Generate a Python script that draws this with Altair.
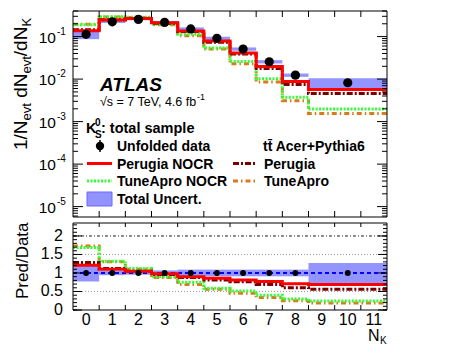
import altair as alt
import pandas as pd

FONT = "Liberation Sans"

# ---------------- data ----------------
bin_centers = [0, 1, 2, 3, 4, 5, 6, 7, 8, 10]
bin_lo = [-0.5, 0.5, 1.5, 2.5, 3.5, 4.5, 5.5, 6.5, 7.5, 8.5]
bin_hi = [0.5, 1.5, 2.5, 3.5, 4.5, 5.5, 6.5, 7.5, 8.5, 11.5]
data_vals = [0.113, 0.223, 0.254, 0.216, 0.151, 0.091, 0.051, 0.0256, 0.0124, 0.0082]
rel_unc = [0.23, 0.06, 0.05, 0.07, 0.09, 0.09, 0.09, 0.09, 0.09, 0.27]
ratio_perugia_nocr = [1.21, 1.10, 1.05, 0.98, 0.90, 0.86, 0.81, 0.77, 0.71, 0.69]
ratio_perugia = [1.28, 1.12, 1.05, 0.96, 0.875, 0.81, 0.76, 0.69, 0.60, 0.56]
ratio_tuneapro_nocr = [1.69, 1.32, 1.12, 0.90, 0.75, 0.59, 0.51, 0.40, 0.30, 0.24]
ratio_tuneapro = [1.73, 1.30, 1.10, 0.88, 0.69, 0.56, 0.45, 0.335, 0.25, 0.19]

x_domain = [-0.5, 11.5]
x_tick_vals = [0.5, 1.5, 2.5, 3.5, 4.5, 5.5, 6.5, 7.5, 8.5, 9.5, 10.5]
x_label_vals = [0, 1, 2, 3, 4, 5, 6, 7, 8, 9, 10, 11]
x_labels = ["0", "1", "2", "3", "4", "5", "6", "7", "8", "9", "10", "11"]

ytop_domain = [5.7e-6, 0.4]
ytop_major = [1e-1, 1e-2, 1e-3, 1e-4, 1e-5]
ytop_exp = ["-1", "-2", "-3", "-4", "-5"]
ytop_minor = [k * 10.0 ** e for e in range(-6, 0) for k in range(2, 10)
              if ytop_domain[0] <= k * 10.0 ** e <= ytop_domain[1]]

ybot_domain = [0, 2.35]
ybot_major = [0, 0.5, 1, 1.5, 2]
ybot_labels = ["0", "0.5", "1", "1.5", "2"]
ybot_minor = [i / 10 for i in range(0, 24)]
ybot_grid = [0.5, 1.5]
ybot_grid2 = [2.0]

# ---------------- scales ----------------
W, H = 314, 299
TOP_H = 206
BOT_TOP = 212
XS = alt.Scale(domain=x_domain, nice=False, zero=False)
YT = alt.Scale(type="log", domain=ytop_domain, range=[TOP_H, 0], nice=False)
YB = alt.Scale(domain=ybot_domain, range=[H, BOT_TOP], nice=False, zero=False)

dummy = pd.DataFrame({"d": [0]})
OX, OY = 73, 11  # page position of the plot origin


def X(f):
    return alt.X(f, type="quantitative", scale=XS, axis=None)


def txt(s, x, y, size=14, weight="bold", align="left", baseline="alphabetic",
        angle=0, style="normal", color="black"):
    kw = dict(text=s, fontSize=size, fontWeight=weight, align=align,
              baseline=baseline, font=FONT, fontStyle=style, color=color)
    if angle:
        kw["angle"] = angle
    return alt.Chart(dummy).mark_text(**kw).encode(x=alt.value(x - OX), y=alt.value(y - OY))


def hrule(x1, x2, y, color, width, dash=None):
    kw = dict(color=color, strokeWidth=width)
    if dash:
        kw["strokeDash"] = dash
    return alt.Chart(dummy).mark_rule(**kw).encode(
        x=alt.value(x1 - OX), x2=alt.value(x2 - OX), y=alt.value(y - OY))


series = [
    ("TuneApro", ratio_tuneapro, "#d97a1c", [5, 3, 1.5, 3]),
    ("TuneApro NOCR", ratio_tuneapro_nocr, "#33ff33", [2, 1.5]),
    ("Perugia", ratio_perugia, "#7a0000", [6, 2, 2, 2]),
    ("Perugia NOCR", ratio_perugia_nocr, "#ff0000", None),
]


def step_layer(vals, color, dash, yscale):
    df = pd.DataFrame({"x": bin_lo + [bin_hi[-1]], "y": vals + [vals[-1]]})
    kw = dict(interpolate="step-after", color=color, strokeWidth=3)
    if dash:
        kw["strokeDash"] = dash
    return alt.Chart(df).mark_line(**kw).encode(
        x=X("x"), y=alt.Y("y:Q", scale=yscale, axis=None))


BAND_FILL = "#4646ff"
BAND_OP = 0.58

# ---------------- top panel ----------------
top_layers = []
band_top = pd.DataFrame({
    "lo": bin_lo, "hi": bin_hi,
    "ylo": [d * (1 - e) for d, e in zip(data_vals, rel_unc)],
    "yhi": [d * (1 + e) for d, e in zip(data_vals, rel_unc)],
})
top_layers.append(alt.Chart(band_top).mark_rect(color=BAND_FILL, opacity=BAND_OP).encode(
    x=X("lo"), x2="hi", y=alt.Y("ylo:Q", scale=YT, axis=None), y2="yhi"))
for name, r, c, dash in series:
    top_layers.append(step_layer([a * d for a, d in zip(r, data_vals)], c, dash, YT))
pts_top = pd.DataFrame({"x": bin_centers, "y": data_vals})
top_layers.append(alt.Chart(pts_top).mark_point(filled=True, color="black", size=85, opacity=1).encode(
    x=X("x"), y=alt.Y("y:Q", scale=YT, axis=None)))

# ticks
maj_df = pd.DataFrame({"v": ytop_major})
min_df = pd.DataFrame({"v": ytop_minor})
for df, L in ((maj_df, 10), (min_df, 5)):
    top_layers.append(alt.Chart(df).mark_rule(color="black").encode(
        y=alt.Y("v:Q", scale=YT, axis=None), x=alt.value(0), x2=alt.value(L)))
    top_layers.append(alt.Chart(df).mark_rule(color="black").encode(
        y=alt.Y("v:Q", scale=YT, axis=None), x=alt.value(W), x2=alt.value(W - L)))
xt_df = pd.DataFrame({"v": x_tick_vals})
top_layers.append(alt.Chart(xt_df).mark_rule(color="black").encode(
    x=X("v"), y=alt.value(0), y2=alt.value(6)))
top_layers.append(alt.Chart(xt_df).mark_rule(color="black").encode(
    x=X("v"), y=alt.value(TOP_H), y2=alt.value(TOP_H - 6)))
frame_top = pd.DataFrame({"x0": [x_domain[0]], "x1": [x_domain[1]],
                          "y0": [ytop_domain[0]], "y1": [ytop_domain[1]]})
top_layers.append(alt.Chart(frame_top).mark_rect(fillOpacity=0, stroke="black", strokeWidth=1).encode(
    x=X("x0"), x2="x1", y=alt.Y("y0:Q", scale=YT, axis=None), y2="y1"))

# y labels 10^k
top_layers.append(alt.Chart(pd.DataFrame({"v": ytop_major, "t": ["10"] * 5})).mark_text(
    align="right", baseline="middle", fontSize=15.5, font=FONT, dy=1).encode(
    y=alt.Y("v:Q", scale=YT, axis=None), x=alt.value(-17), text="t:N"))
top_layers.append(alt.Chart(pd.DataFrame({"v": ytop_major, "t": ytop_exp})).mark_text(
    align="left", baseline="middle", fontSize=10, font=FONT, dy=-5).encode(
    y=alt.Y("v:Q", scale=YT, axis=None), x=alt.value(-16), text="t:N"))

# y title 1/N_evt dN_evt/dN_K (rotated); (text, size, baseline shift, width in em, gap before)
segs = [("1/N", 19, 0, 1.556, 0), ("evt", 13, 4, 1.334, 0), ("dN", 19, 0, 1.278, 5.3),
        ("evt", 13, 4, 1.334, 0), ("/dN", 19, 0, 1.556, 0), ("K", 13, 4, 0.667, 0)]
ypos = 150
for s, size, shift, em, gap in segs:
    ypos -= gap
    top_layers.append(txt(s, 27 + shift, ypos, size=size, weight="normal", angle=270))
    ypos -= em * size

# annotations
top_layers.append(txt("ATLAS", 100, 91, size=19, weight="bold", style="italic"))
top_layers.append(txt("\u221as = 7 TeV, 4.6 fb", 100, 106, size=12.5, weight="normal"))
top_layers.append(txt("-1", 197, 100, size=9, weight="normal"))
top_layers.append(txt("K", 86, 133, size=14.5))
top_layers.append(txt("0", 95, 126, size=10))
top_layers.append(txt("S", 95, 138, size=10))
top_layers.append(txt(": total sample", 101, 133, size=14.5))

# legend
top_layers.append(alt.Chart(dummy).mark_rule(color="black", strokeWidth=1.5).encode(
    x=alt.value(100 - OX), y=alt.value(140 - OY), y2=alt.value(152 - OY)))
top_layers.append(alt.Chart(dummy).mark_point(filled=True, color="black", size=70, opacity=1).encode(
    x=alt.value(100 - OX), y=alt.value(146 - OY)))
top_layers.append(txt("Unfolded data", 117, 151))
top_layers.append(txt("tt\u0304 Acer+Pythia6", 263, 151))
top_layers.append(hrule(87, 112, 163.5, "#ff0000", 3))
top_layers.append(txt("Perugia NOCR", 117, 168.5))
top_layers.append(hrule(233, 256, 163.5, "#7a0000", 3, [6, 2, 2, 2]))
top_layers.append(txt("Perugia", 264, 168.5))
top_layers.append(hrule(87, 112, 181, "#33ff33", 3, [2, 1.5]))
top_layers.append(txt("TuneApro NOCR", 117, 186))
top_layers.append(hrule(233, 256, 181, "#d97a1c", 3, [5, 3, 1.5, 3]))
top_layers.append(txt("TuneApro", 264, 186))
top_layers.append(alt.Chart(dummy).mark_rect(color=BAND_FILL, opacity=BAND_OP, stroke="#0000ff",
                                             strokeWidth=1).encode(
    x=alt.value(87 - OX), x2=alt.value(112 - OX), y=alt.value(192 - OY), y2=alt.value(206 - OY)))
top_layers.append(txt("Total Uncert.", 117, 204))

top = alt.layer(*top_layers)

# ---------------- ratio panel ----------------
bot_layers = []
bot_layers.append(alt.Chart(pd.DataFrame({"v": ybot_grid})).mark_rule(
    color="#999999", strokeDash=[1, 2]).encode(
    y=alt.Y("v:Q", scale=YB, axis=None), x=alt.value(0), x2=alt.value(W)))
bot_layers.append(alt.Chart(pd.DataFrame({"v": ybot_grid2})).mark_rule(
    color="#222222", strokeDash=[3, 2, 1, 2]).encode(
    y=alt.Y("v:Q", scale=YB, axis=None), x=alt.value(0), x2=alt.value(W)))
band_bot = pd.DataFrame({"lo": bin_lo, "hi": bin_hi,
                         "ylo": [1 - e for e in rel_unc], "yhi": [1 + e for e in rel_unc]})
bot_layers.append(alt.Chart(band_bot).mark_rect(color=BAND_FILL, opacity=BAND_OP).encode(
    x=X("lo"), x2="hi", y=alt.Y("ylo:Q", scale=YB, axis=None), y2="yhi"))
bot_layers.append(alt.Chart(pd.DataFrame({"x0": [x_domain[0]], "x1": [x_domain[1]], "y": [1.0]})).mark_rule(
    color="#0000ff", strokeWidth=2, strokeDash=[4, 3]).encode(
    x=X("x0"), x2="x1", y=alt.Y("y:Q", scale=YB, axis=None)))
for name, r, c, dash in series:
    bot_layers.append(step_layer(list(r), c, dash, YB))
bot_layers.append(alt.Chart(pd.DataFrame({"x": bin_centers, "y": [1.0] * len(bin_centers)})).mark_point(
    filled=True, color="black", size=35, opacity=1).encode(
    x=X("x"), y=alt.Y("y:Q", scale=YB, axis=None)))

bmaj = pd.DataFrame({"v": ybot_major})
bmin = pd.DataFrame({"v": ybot_minor})
for df, L in ((bmaj, 9), (bmin, 4)):
    bot_layers.append(alt.Chart(df).mark_rule(color="black").encode(
        y=alt.Y("v:Q", scale=YB, axis=None), x=alt.value(0), x2=alt.value(L)))
    bot_layers.append(alt.Chart(df).mark_rule(color="black").encode(
        y=alt.Y("v:Q", scale=YB, axis=None), x=alt.value(W), x2=alt.value(W - L)))
bot_layers.append(alt.Chart(xt_df).mark_rule(color="black").encode(
    x=X("v"), y=alt.value(BOT_TOP), y2=alt.value(BOT_TOP + 4)))
bot_layers.append(alt.Chart(xt_df).mark_rule(color="black").encode(
    x=X("v"), y=alt.value(H), y2=alt.value(H - 5)))
frame_bot = pd.DataFrame({"x0": [x_domain[0]], "x1": [x_domain[1]],
                          "y0": [ybot_domain[0]], "y1": [ybot_domain[1]]})
bot_layers.append(alt.Chart(frame_bot).mark_rect(fillOpacity=0, stroke="black", strokeWidth=1).encode(
    x=X("x0"), x2="x1", y=alt.Y("y0:Q", scale=YB, axis=None), y2="y1"))

bot_layers.append(alt.Chart(pd.DataFrame({"v": ybot_major, "t": ybot_labels})).mark_text(
    align="right", baseline="middle", fontSize=16, font=FONT).encode(
    y=alt.Y("v:Q", scale=YB, axis=None), x=alt.value(-10), text="t:N"))
bot_layers.append(alt.Chart(pd.DataFrame({"v": x_label_vals, "t": x_labels})).mark_text(
    align="center", baseline="middle", fontSize=16, font=FONT).encode(
    x=X("v"), y=alt.value(320 - OY), text="t:N"))
bot_layers.append(txt("Pred/Data", 28, 299, size=17, weight="normal", angle=270))
bot_layers.append(txt("N", 368, 341, size=16, weight="normal"))
bot_layers.append(txt("K", 380, 344, size=10, weight="normal"))

bottom = alt.layer(*bot_layers)

chart = alt.layer(top, bottom).resolve_scale(y="independent").properties(
    width=W, height=H,
    autosize=alt.AutoSizeParams(type="none"),
    padding={"left": 65, "top": 3, "right": 61, "bottom": 36},
    background="white",
).configure_view(stroke=None)

chart.save("out.html", embed_options={"renderer": "svg", "actions": False})
